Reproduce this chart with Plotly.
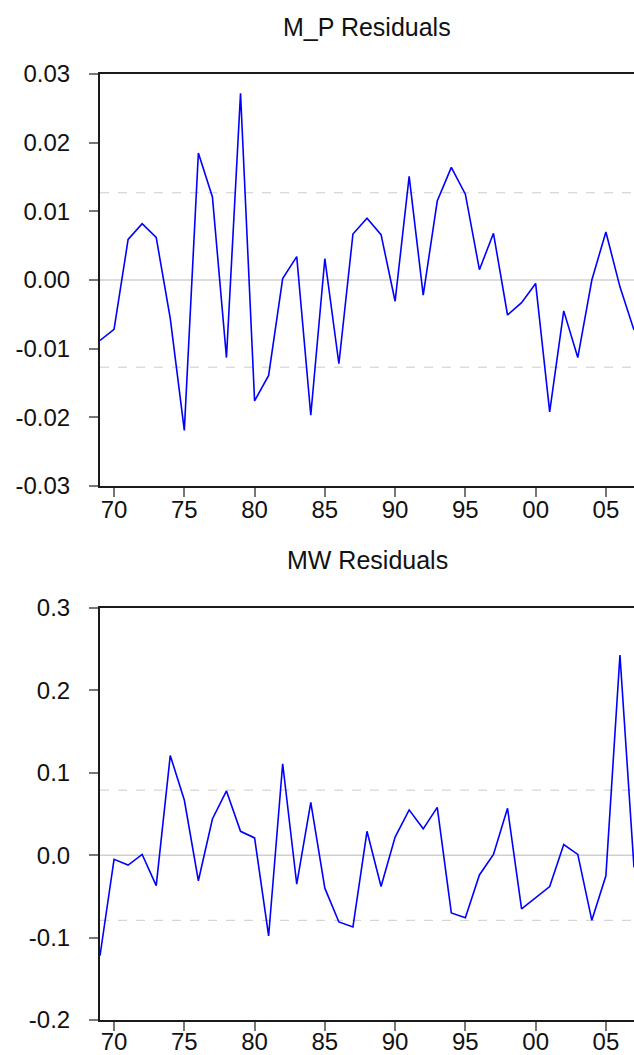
import plotly.graph_objects as go

years = list(range(1969, 2008))

mp_resid = [-0.0088, -0.0072, 0.0059, 0.0082, 0.0062, -0.0056, -0.0219, 0.0185, 0.0121, -0.0113,
            0.0272, -0.0176, -0.0139, 0.0002, 0.0034, -0.0197, 0.0031, -0.0122, 0.0067, 0.0090,
            0.0066, -0.0031, 0.0151, -0.0022, 0.0115, 0.0164, 0.0125, 0.0015, 0.0068, -0.0051,
            -0.0033, -0.0005, -0.0192, -0.0045, -0.0113, 0.0000, 0.0070, -0.0010, -0.0073]

mw_resid = [-0.122, -0.005, -0.012, 0.001, -0.037, 0.121, 0.067, -0.031, 0.044, 0.078,
            0.029, 0.021, -0.098, 0.111, -0.035, 0.064, -0.040, -0.081, -0.087, 0.029,
            -0.038, 0.022, 0.055, 0.032, 0.058, -0.070, -0.076, -0.024, 0.001, 0.057,
            -0.065, -0.052, -0.038, 0.013, 0.001, -0.079, -0.025, 0.243, -0.015]

mp_band = 0.0127
mw_band = 0.079

x_tickvals = [1970, 1975, 1980, 1985, 1990, 1995, 2000, 2005]
x_ticktext = ["70", "75", "80", "85", "90", "95", "00", "05"]

mp_tickvals = [0.03, 0.02, 0.01, 0.0, -0.01, -0.02, -0.03]
mp_ticktext = ["0.03", "0.02", "0.01", "0.00", "-0.01", "-0.02", "-0.03"]
mw_tickvals = [0.3, 0.2, 0.1, 0.0, -0.1, -0.2]
mw_ticktext = ["0.3", "0.2", "0.1", "0.0", "-0.1", "-0.2"]

titles = ["M_P Residuals", "MW Residuals"]

FONT = "Liberation Sans, Arial, Helvetica, sans-serif"

fig = go.Figure()

fig.add_trace(go.Scatter(x=years, y=mp_resid, mode="lines",
                         line=dict(color="#0000ff", width=1.6), xaxis="x", yaxis="y",
                         showlegend=False))
fig.add_trace(go.Scatter(x=years, y=mw_resid, mode="lines",
                         line=dict(color="#0000ff", width=1.6), xaxis="x2", yaxis="y2",
                         showlegend=False))

axis_common = dict(showgrid=False, zeroline=False, showline=True, linecolor="#1a1a1a",
                   linewidth=2, ticks="outside", ticklen=9, tickwidth=1.5, tickcolor="#777777",
                   automargin=False,
                   tickfont=dict(family=FONT, size=24, color="#111111"))

# plot areas: top 74..486 px, bottom 608..1020 px (total 74..1020)
top_dom = [0.5645, 1.0]
bot_dom = [0.0, 0.4355]

fig.update_layout(
    xaxis=dict(domain=[0, 1], anchor="y", range=[1969, 2007], tickvals=x_tickvals,
               ticktext=x_ticktext, mirror=True, ticklabelstandoff=-8, **axis_common),
    yaxis=dict(domain=top_dom, anchor="x", range=[-0.03, 0.03], tickvals=mp_tickvals,
               ticktext=mp_ticktext, ticklabelstandoff=14, **axis_common),
    xaxis2=dict(domain=[0, 1], anchor="y2", range=[1969, 2007], tickvals=x_tickvals,
                ticktext=x_ticktext, mirror=True, ticklabelstandoff=-10, **axis_common),
    yaxis2=dict(domain=bot_dom, anchor="x2", range=[-0.2, 0.3], tickvals=mw_tickvals,
                ticktext=mw_ticktext, ticklabelstandoff=14, **axis_common),
)

shapes = []
for yref, band in (("y", mp_band), ("y2", mw_band)):
    xref = "x domain" if yref == "y" else "x2 domain"
    shapes.append(dict(type="line", xref=xref, yref=yref, x0=0, x1=1, y0=0, y1=0,
                       line=dict(color="#d0d0d0", width=1.5), layer="below"))
    for s in (1, -1):
        shapes.append(dict(type="line", xref=xref, yref=yref, x0=0, x1=1, y0=s * band, y1=s * band,
                           line=dict(color="#cccccc", width=1, dash="dash"), layer="below"))

annotations = [
    dict(text=titles[0], xref="x domain", yref="paper", x=0.5, y=1.0, yshift=47,
         showarrow=False, xanchor="center", yanchor="middle",
         font=dict(family=FONT, size=25, color="#111111")),
    dict(text=titles[1], xref="x2 domain", yref="paper", x=0.5, y=bot_dom[1], yshift=48,
         showarrow=False, xanchor="center", yanchor="middle",
         font=dict(family=FONT, size=25, color="#111111")),
]

fig.update_layout(
    shapes=shapes,
    annotations=annotations,
    width=634, height=1055,
    margin=dict(l=100, r=0, t=74, b=35, autoexpand=False),
    paper_bgcolor="white", plot_bgcolor="white",
    font=dict(family=FONT),
)

fig.write_html("out.html", config={"displayModeBar": False})
